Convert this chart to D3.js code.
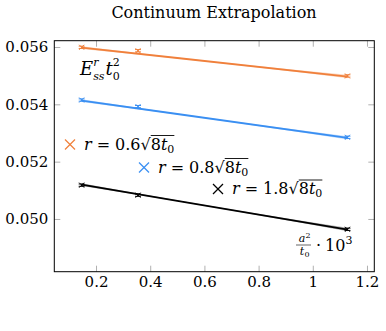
<!DOCTYPE html>
<html>
<head>
<meta charset="utf-8">
<script src="https://cdn.jsdelivr.net/npm/d3@7"></script>
<style>
  body { margin: 0; background: #fff; }
  svg text { font-family: "DejaVu Serif", serif; fill: #000; }
</style>
</head>
<body>
<div id="chart"></div>
<script>
// data
const xs = [0.147, 0.355, 1.128]
const orange = [0.05599, 0.05587, 0.05499]
const blue = [0.05415, 0.05392, 0.05285]
const black = [0.05118, 0.05083, 0.04964]
const errs = [0.00004, 0.00004, 0.00004]

// linear fit lines and their error band
const fitX = [0.147, 0.5, 1.128]
const fitOrange = [0.05598, 0.055617, 0.05497]
const fitBlue = [0.05413, 0.053662, 0.05283]
const fitBlack = [0.05120, 0.050635, 0.04963]
const bandHalf = [0.00005, 0.00002, 0.00006]

const xTicks = [0.2, 0.4, 0.6, 0.8, 1, 1.2]
const yTicks = [0.050, 0.052, 0.054, 0.056]

const serif = '"DejaVu Serif", serif'

const width = 386,
      height = 331,
      margin = { top: 40.7, right: 11.7, bottom: 59.3, left: 54.3 }

const svg = d3.select('#chart')
  .append('svg')
  .attr('width', width)
  .attr('height', height)
  .style('font-family', serif)

const x = d3.scaleLinear()
  .domain([0.046, 1.227])
  .range([margin.left, width - margin.right])

const y = d3.scaleLinear()
  .domain([0.04816, 0.05622])
  .range([height - margin.bottom, margin.top])

// title
svg.append('text')
  .attr('x', 214)
  .attr('y', 18)
  .attr('text-anchor', 'middle')
  .style('font-size', '16px')
  .text('Continuum Extrapolation')

// axes, ticks pointing inwards on all four sides
const tickLen = 6
const axBottom = svg.append('g')
  .attr('transform', `translate(0,${height - margin.bottom})`)
  .call(d3.axisBottom(x).tickValues(xTicks).tickSizeInner(-tickLen).tickSizeOuter(0).tickPadding(5)
    .tickFormat(d => d === 1 ? '1' : d3.format('.1f')(d)))
const axTop = svg.append('g')
  .attr('transform', `translate(0,${margin.top})`)
  .call(d3.axisTop(x).tickValues(xTicks).tickSizeInner(-tickLen).tickSizeOuter(0).tickFormat(''))
const axLeft = svg.append('g')
  .attr('transform', `translate(${margin.left},0)`)
  .call(d3.axisLeft(y).tickValues(yTicks).tickSizeInner(-tickLen).tickSizeOuter(0).tickPadding(6)
    .tickFormat(d3.format('.3f')))
const axRight = svg.append('g')
  .attr('transform', `translate(${width - margin.right},0)`)
  .call(d3.axisRight(y).tickValues(yTicks).tickSizeInner(-tickLen).tickSizeOuter(0).tickFormat(''))

;[axBottom, axTop, axLeft, axRight].forEach(g => {
  g.attr('font-family', serif)
  g.select('.domain').remove()
  g.selectAll('.tick line').attr('stroke', '#b0b0b0').attr('stroke-width', 1)
  g.selectAll('.tick text').style('font-family', serif).style('font-size', '15px').attr('fill', '#000')
})

// frame
svg.append('rect')
  .attr('x', margin.left)
  .attr('y', margin.top)
  .attr('width', width - margin.left - margin.right)
  .attr('height', height - margin.top - margin.bottom)
  .attr('fill', 'none')
  .attr('stroke', '#000')
  .attr('stroke-width', 1)

const series = [
  { vals: orange, fit: fitOrange, color: '#f0803c' },
  { vals: blue, fit: fitBlue, color: '#3a8ff2' },
  { vals: black, fit: fitBlack, color: '#000000' }
]

const area = d3.area()
  .curve(d3.curveMonotoneX)
  .x(d => x(d.x))
  .y0(d => y(d.v - d.h))
  .y1(d => y(d.v + d.h))

const line = d3.line()
  .x(d => x(d.x))
  .y(d => y(d.v))

series.forEach(s => {
  const fitPts = fitX.map((fx, i) => ({ x: fx, v: s.fit[i], h: bandHalf[i] }))
  svg.append('path')
    .attr('d', area(fitPts))
    .attr('fill', s.color)
    .attr('opacity', 0.3)
  svg.append('path')
    .attr('d', line(fitPts))
    .attr('fill', 'none')
    .attr('stroke', s.color)
    .attr('stroke-width', 1.8)

  const pts = xs.map((px, i) => ({ x: px, v: s.vals[i], e: errs[i] }))
  const g = svg.append('g').attr('stroke', s.color).attr('stroke-width', 1)
  pts.forEach(p => {
    const cx = x(p.x), cy = y(p.v), y0 = y(p.v - p.e), y1 = y(p.v + p.e)
    g.append('line').attr('x1', cx).attr('x2', cx).attr('y1', y0).attr('y2', y1)
    g.append('line').attr('x1', cx - 3).attr('x2', cx + 3).attr('y1', y0).attr('y2', y0)
    g.append('line').attr('x1', cx - 3).attr('x2', cx + 3).attr('y1', y1).attr('y2', y1)
    g.append('line').attr('x1', cx - 2.5).attr('x2', cx + 2.5).attr('y1', cy - 2.5).attr('y2', cy + 2.5)
    g.append('line').attr('x1', cx - 2.5).attr('x2', cx + 2.5).attr('y1', cy + 2.5).attr('y2', cy - 2.5)
  })
})

// small helper: place pieces of a formula one after another
function formula (x0, y0, pieces) {
  let cx = x0
  const out = []
  pieces.forEach(p => {
    const t = svg.append('text')
      .attr('x', cx + (p.dx || 0))
      .attr('y', y0 + (p.dy || 0))
      .style('font-size', p.size + 'px')
      .style('font-style', p.italic ? 'italic' : 'normal')
      .text(p.t)
    const w = t.node().getComputedTextLength()
    out.push({ x: cx + (p.dx || 0), w })
    if (!p.stay) cx += (p.dx || 0) + w
  })
  return out
}

// legend entries
const legendLabels = ['0.6', '0.8', '1.8']
const legendPos = [[70, 144.5], [144, 167.5], [218, 189]]
series.forEach((s, i) => {
  const [lx, ly] = legendPos[i]
  svg.append('line').attr('x1', lx - 5).attr('x2', lx + 5).attr('y1', ly - 5).attr('y2', ly + 5)
    .attr('stroke', s.color).attr('stroke-width', 1.2)
  svg.append('line').attr('x1', lx - 5).attr('x2', lx + 5).attr('y1', ly + 5).attr('y2', ly - 5)
    .attr('stroke', s.color).attr('stroke-width', 1.2)
  const parts = formula(lx + 14, ly + 5, [
    { t: 'r', size: 16, italic: true },
    { t: '=', size: 16, dx: 5 },
    { t: legendLabels[i], size: 16, dx: 5 },
    { t: '√', size: 16, dx: 0 },
    { t: '8', size: 16, dx: 0 },
    { t: 't', size: 16, italic: true },
    { t: '0', size: 11, dy: 3 }
  ])
  const x0 = parts[4].x, x1 = parts[6].x + parts[6].w
  svg.append('line').attr('x1', x0).attr('x2', x1).attr('y1', ly - 9).attr('y2', ly - 9)
    .attr('stroke', '#000').attr('stroke-width', 0.9)
})

// observable label E^r_ss t_0^2
formula(80, 75, [
  { t: 'E', size: 18, italic: true },
  { t: 'r', size: 11, italic: true, dy: -9, stay: true },
  { t: 'ss', size: 11, italic: true, dy: 5 },
  { t: 't', size: 18, italic: true, dx: 1 },
  { t: '2', size: 11, dy: -9, stay: true },
  { t: '0', size: 11, dy: 5 }
])

// x axis label: a^2/t0 · 10^3
const fx = 303
svg.append('text').attr('x', fx - 1).attr('y', 242).attr('text-anchor', 'middle').style('font-size', '11px')
  .style('font-style', 'italic').text('a')
svg.append('text').attr('x', fx + 5).attr('y', 238).attr('text-anchor', 'middle').style('font-size', '8px').text('2')
svg.append('line').attr('x1', fx - 7).attr('x2', fx + 8).attr('y1', 245).attr('y2', 245)
  .attr('stroke', '#000').attr('stroke-width', 0.6)
svg.append('text').attr('x', fx - 1).attr('y', 255).attr('text-anchor', 'middle').style('font-size', '11px')
  .style('font-style', 'italic').text('t')
svg.append('text').attr('x', fx + 4).attr('y', 257).attr('text-anchor', 'middle').style('font-size', '8px').text('0')
formula(316, 251, [
  { t: '·', size: 16 },
  { t: '10', size: 16, dx: 4 },
  { t: '3', size: 11, dy: -7 }
])
</script>
</body>
</html>
